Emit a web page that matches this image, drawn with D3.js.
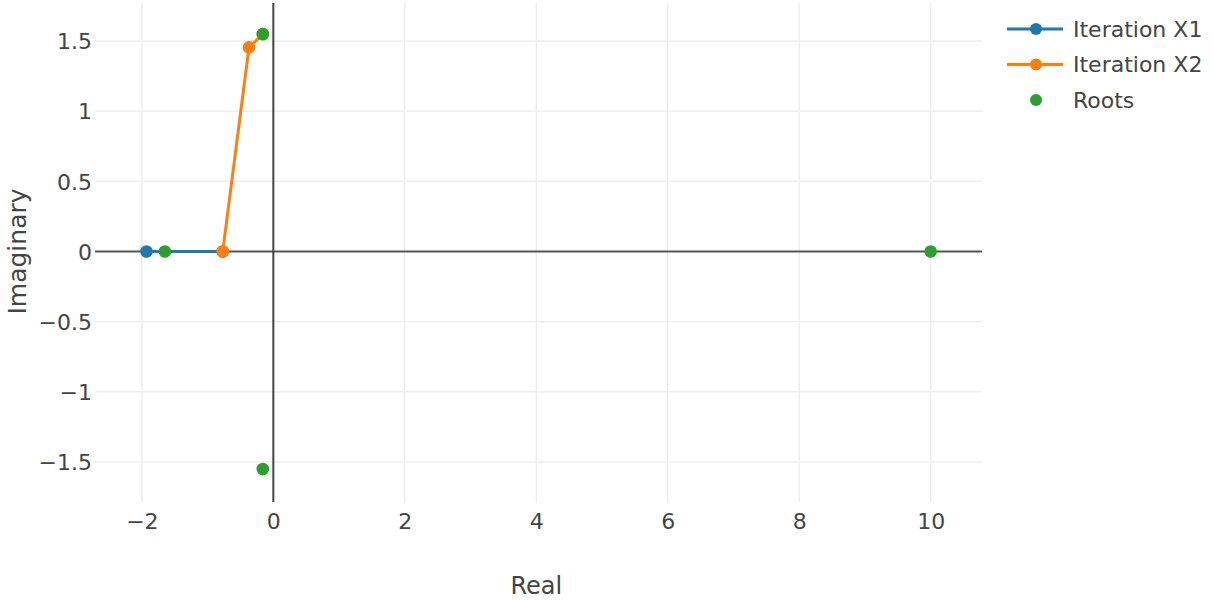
<!DOCTYPE html>
<html>
<head>
<meta charset="utf-8">
<script src="https://cdn.jsdelivr.net/npm/d3@7"></script>
<style>
  html, body { margin: 0; padding: 0; background: #fff; }
  svg { display: block; }
  text { font-family: "DejaVu Sans", Verdana, sans-serif; fill: #444; }
</style>
</head>
<body>
<svg id="chart" width="1213" height="601"></svg>
<script>
// Iteration paths in the complex plane and the polynomial's roots
const x1Real = [-1.93, -0.77];
const x1Imag = [0, 0];
const x2Real = [-0.77, -0.37, -0.16];
const x2Imag = [0, 1.455, 1.548];
const rootsReal = [-1.65, -0.16, -0.16, 10];
const rootsImag = [0, 1.55, -1.55, 0];

const xTicks = [-2, 0, 2, 4, 6, 8, 10];
const yTicks = [-1.5, -1, -0.5, 0, 0.5, 1, 1.5];

const seriesNames = ["Iteration X1", "Iteration X2", "Roots"];
const colors = ["#1f77b4", "#ff7f0e", "#2ca02c"];

const plot = { left: 95, right: 982, top: 3, bottom: 502 };

const svg = d3.select("#chart");

const x = d3.scaleLinear().domain([-2.713, 10.781]).range([plot.left, plot.right]);
const y = d3.scaleLinear().domain([-1.785, 1.771]).range([plot.bottom, plot.top]);

const fmt = v => d3.format("")(v).replace("-", "\u2212");

// grid
const grid = svg.append("g");
grid.selectAll("line.gx").data(xTicks.filter(d => d !== 0)).join("line")
  .attr("x1", d => x(d)).attr("x2", d => x(d))
  .attr("y1", plot.top).attr("y2", plot.bottom)
  .attr("stroke", "#eee").attr("stroke-width", 1.5);
grid.selectAll("line.gy").data(yTicks.filter(d => d !== 0)).join("line")
  .attr("y1", d => y(d)).attr("y2", d => y(d))
  .attr("x1", plot.left).attr("x2", plot.right)
  .attr("stroke", "#eee").attr("stroke-width", 1.5);

// zero lines
svg.append("line")
  .attr("x1", plot.left).attr("x2", plot.right)
  .attr("y1", y(0)).attr("y2", y(0))
  .attr("stroke", "#555").attr("stroke-width", 2);
svg.append("line")
  .attr("x1", x(0)).attr("x2", x(0))
  .attr("y1", plot.top).attr("y2", plot.bottom)
  .attr("stroke", "#444").attr("stroke-width", 2);

// axes (labels only, no domain/tick marks)
const xAxis = d3.axisBottom(x).tickValues(xTicks).tickFormat(fmt).tickSize(0).tickPadding(0);
const gx = svg.append("g").attr("transform", `translate(0,${plot.bottom})`).call(xAxis);
gx.select(".domain").remove();
gx.selectAll("text").attr("dy", null).attr("y", 27)
  .style("font-size", "22px").style("fill", "#444").attr("font-family", null);

const yAxis = d3.axisLeft(y).tickValues(yTicks).tickFormat(fmt).tickSize(0).tickPadding(0);
const gy = svg.append("g").attr("transform", `translate(${plot.left - 3},0)`).call(yAxis);
gy.select(".domain").remove();
gy.selectAll("text").attr("dy", "0.35em").attr("x", 0)
  .style("font-size", "22px").style("fill", "#444").attr("font-family", null);

// axis titles
svg.append("text").attr("x", x(4)).attr("y", 594).attr("text-anchor", "middle")
  .style("font-size", "24px").text("Real");
svg.append("text").attr("transform", `translate(26,${y(0)}) rotate(-90)`)
  .attr("text-anchor", "middle").style("font-size", "25px").text("Imaginary");

// series
const line = d3.line().x(d => x(d[0])).y(d => y(d[1]));
const series = [
  { pts: d3.zip(x1Real, x1Imag), mode: "lines+markers" },
  { pts: d3.zip(x2Real, x2Imag), mode: "lines+markers" },
  { pts: d3.zip(rootsReal, rootsImag), mode: "markers" }
];
series.forEach((s, i) => {
  const g = svg.append("g");
  if (s.mode.includes("lines")) {
    g.append("path").attr("d", line(s.pts)).attr("fill", "none")
      .attr("stroke", colors[i]).attr("stroke-width", 3);
  }
  g.selectAll("circle").data(s.pts).join("circle")
    .attr("cx", d => x(d[0])).attr("cy", d => y(d[1])).attr("r", 6.3)
    .attr("fill", colors[i]);
});

// legend
const legend = svg.append("g").attr("transform", "translate(1007,29)");
seriesNames.forEach((name, i) => {
  const row = legend.append("g").attr("transform", `translate(0,${i * 35.5})`);
  if (i < 2) {
    row.append("line").attr("x1", 0).attr("x2", 56).attr("y1", 0).attr("y2", 0)
      .attr("stroke", colors[i]).attr("stroke-width", 3);
  }
  row.append("circle").attr("cx", 29).attr("cy", 0).attr("r", 6).attr("fill", colors[i]);
  row.append("text").attr("x", 66).attr("dy", "0.35em").style("font-size", "22px").text(name);
});
</script>
</body>
</html>
